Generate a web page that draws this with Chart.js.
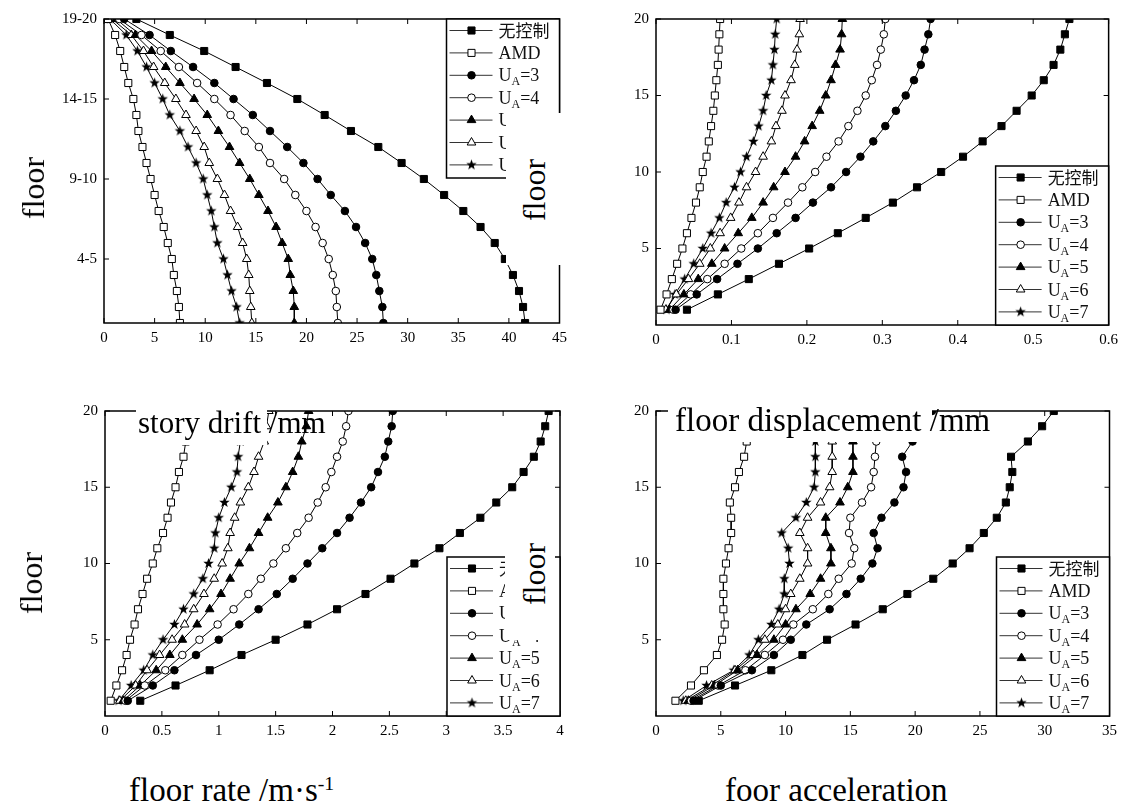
<!DOCTYPE html>
<html>
<head>
<meta charset="utf-8">
<script src="https://cdn.jsdelivr.net/npm/chart.js@4.4.1/dist/chart.umd.min.js"></script>
<style>
  body { margin: 0; background: #fff; width: 1121px; height: 809px; overflow: hidden; position: relative; font-family: "Liberation Serif", serif; }
  canvas { position: absolute; }
  .t { position: absolute; white-space: nowrap; line-height: 1; color: #000; z-index: 5; }
  .mask { position: absolute; background: #fff; z-index: 4; }
  .rot { transform: translate(-50%, -50%) rotate(-90deg); }
  sup { font-size: 60%; vertical-align: 0.55em; }
</style>
</head>
<body>
<canvas id="drift"></canvas>
<canvas id="disp"></canvas>
<canvas id="rate"></canvas>
<canvas id="acc"></canvas>

<!-- pasted labels, as in the original collage -->
<div class="mask" style="left:506px;top:113px;width:70px;height:152px"></div>
<div class="mask" style="left:505px;top:540px;width:50px;height:100px"></div>
<div class="mask" style="left:136px;top:395px;width:131px;height:50px"></div>
<div class="mask" style="left:668px;top:395px;width:264px;height:47px"></div>

<div class="t rot" style="left:33px;top:188px;font-size:32px">floor</div>
<div class="t rot" style="left:31px;top:583px;font-size:32px">floor</div>
<div class="t rot" style="left:534px;top:190px;font-size:32px">floor</div>
<div class="t rot" style="left:534px;top:574px;font-size:32px">floor</div>
<div class="t" style="left:138px;top:407px;font-size:31px">story drift /mm</div>
<div class="t" style="left:675px;top:404px;font-size:33px">floor displacement /mm</div>
<div class="t" style="left:129px;top:774px;font-size:33px">floor rate /m·s<sup>-1</sup></div>
<div class="t" style="left:725px;top:774px;font-size:33px">foor acceleration</div>

<script>
// floors, top to bottom
const floors = [20, 19, 18, 17, 16, 15, 14, 13, 12, 11, 10, 9, 8, 7, 6, 5, 4, 3, 2, 1];
const seriesNames = ['无控制', 'AMD', 'U_A=3', 'U_A=4', 'U_A=5', 'U_A=6', 'U_A=7'];

// tick labels
const floorTicks = [5, 10, 15, 20];
const driftFloorLabels = ['4-5', '9-10', '14-15', '19-20'];
const driftTicksX = [0, 5, 10, 15, 20, 25, 30, 35, 40, 45];
const dispTicksX = [0, 0.1, 0.2, 0.3, 0.4, 0.5, 0.6];
const rateTicksX = [0, 0.5, 1, 1.5, 2, 2.5, 3, 3.5, 4];
const accTicksX = [0, 5, 10, 15, 20, 25, 30, 35];

// top left
const noCtrl1 = [3.2, 6.5, 9.9, 13.0, 16.1, 19.1, 21.8, 24.4, 27.1, 29.4, 31.6, 33.6, 35.5, 37.2, 38.6, 39.6, 40.4, 41.0, 41.4, 41.6];
const amd1 = [0.4, 1.1, 1.6, 2.0, 2.4, 2.9, 3.2, 3.4, 3.8, 4.2, 4.6, 5.0, 5.4, 5.9, 6.3, 6.7, 6.9, 7.2, 7.4, 7.5];
const ua3_1 = [2.0, 4.5, 6.6, 8.8, 10.9, 12.8, 14.7, 16.4, 18.1, 19.7, 21.1, 22.4, 23.8, 24.9, 25.8, 26.5, 26.9, 27.2, 27.5, 27.6];
const ua4_1 = [1.5, 3.7, 5.6, 7.4, 9.2, 10.9, 12.5, 13.9, 15.3, 16.4, 17.8, 18.9, 20.0, 20.9, 21.6, 22.2, 22.6, 22.9, 23.0, 23.1];
const ua5_1 = [1.2, 3.1, 4.7, 6.1, 7.5, 8.9, 10.2, 11.3, 12.4, 13.4, 14.4, 15.3, 16.2, 17.0, 17.6, 18.2, 18.4, 18.7, 18.8, 18.8];
const ua6_1 = [0.8, 2.7, 3.9, 4.9, 6.0, 7.1, 8.1, 9.1, 9.9, 10.4, 11.2, 11.9, 12.5, 13.2, 13.7, 14.1, 14.3, 14.4, 14.5, 14.6];
const ua7_1 = [0.6, 2.2, 3.3, 4.2, 5.0, 5.8, 6.5, 7.5, 8.3, 9.1, 9.8, 10.2, 10.6, 10.9, 11.2, 11.8, 12.2, 12.6, 13.1, 13.4];

// top right
const noCtrl2 = [0.548, 0.542, 0.536, 0.527, 0.514, 0.498, 0.478, 0.458, 0.433, 0.407, 0.378, 0.346, 0.314, 0.278, 0.241, 0.203, 0.163, 0.123, 0.082, 0.041];
const amd2 = [0.085, 0.084, 0.083, 0.082, 0.080, 0.078, 0.076, 0.073, 0.070, 0.067, 0.062, 0.058, 0.053, 0.047, 0.041, 0.035, 0.028, 0.021, 0.014, 0.006];
const ua3_2 = [0.364, 0.361, 0.356, 0.351, 0.342, 0.331, 0.318, 0.304, 0.288, 0.271, 0.252, 0.232, 0.208, 0.185, 0.160, 0.135, 0.108, 0.081, 0.054, 0.026];
const ua4_2 = [0.304, 0.302, 0.298, 0.293, 0.286, 0.278, 0.267, 0.255, 0.242, 0.226, 0.211, 0.194, 0.175, 0.155, 0.135, 0.113, 0.091, 0.068, 0.046, 0.023];
const ua5_2 = [0.247, 0.246, 0.244, 0.238, 0.232, 0.225, 0.217, 0.207, 0.197, 0.185, 0.171, 0.156, 0.142, 0.127, 0.109, 0.091, 0.074, 0.056, 0.037, 0.018];
const ua6_2 = [0.191, 0.190, 0.187, 0.184, 0.179, 0.171, 0.167, 0.159, 0.153, 0.142, 0.132, 0.120, 0.110, 0.099, 0.085, 0.072, 0.058, 0.043, 0.027, 0.013];
const ua7_2 = [0.160, 0.158, 0.157, 0.155, 0.153, 0.146, 0.142, 0.136, 0.129, 0.120, 0.112, 0.104, 0.093, 0.084, 0.073, 0.062, 0.050, 0.038, 0.025, 0.014];

// bottom left
const noCtrl3 = [3.90, 3.87, 3.83, 3.77, 3.68, 3.58, 3.44, 3.30, 3.12, 2.94, 2.72, 2.51, 2.29, 2.04, 1.78, 1.50, 1.20, 0.92, 0.62, 0.31];
const amd3 = [0.74, 0.73, 0.71, 0.69, 0.65, 0.62, 0.58, 0.55, 0.51, 0.46, 0.42, 0.37, 0.33, 0.29, 0.26, 0.22, 0.19, 0.15, 0.10, 0.05];
const ua3_3 = [2.53, 2.52, 2.49, 2.46, 2.40, 2.34, 2.25, 2.15, 2.04, 1.91, 1.78, 1.65, 1.51, 1.35, 1.18, 1.00, 0.80, 0.61, 0.42, 0.20];
const ua4_3 = [2.14, 2.12, 2.09, 2.04, 1.99, 1.94, 1.87, 1.79, 1.69, 1.59, 1.48, 1.37, 1.26, 1.13, 0.99, 0.83, 0.68, 0.53, 0.35, 0.18];
const ua5_3 = [1.79, 1.77, 1.73, 1.70, 1.65, 1.59, 1.52, 1.43, 1.35, 1.27, 1.18, 1.10, 1.02, 0.92, 0.81, 0.68, 0.57, 0.45, 0.31, 0.16];
const ua6_3 = [1.44, 1.42, 1.40, 1.35, 1.31, 1.26, 1.19, 1.14, 1.10, 1.08, 1.03, 0.96, 0.87, 0.78, 0.70, 0.59, 0.48, 0.37, 0.27, 0.13];
const ua7_3 = [1.20, 1.19, 1.19, 1.17, 1.16, 1.11, 1.05, 1.00, 0.97, 0.96, 0.91, 0.86, 0.78, 0.69, 0.61, 0.51, 0.42, 0.34, 0.23, 0.12];

// bottom right
const noCtrl4 = [30.7, 29.8, 28.7, 27.4, 27.5, 27.3, 27.0, 26.3, 25.3, 24.2, 22.9, 21.4, 19.4, 17.5, 15.4, 13.2, 11.3, 8.9, 6.1, 3.3];
const amd4 = [7.4, 7.2, 7.0, 6.8, 6.4, 6.1, 5.7, 5.8, 5.8, 5.6, 5.4, 5.2, 5.2, 5.2, 5.3, 5.1, 4.7, 3.7, 2.7, 1.5];
const ua3_4 = [21.3, 20.6, 19.8, 19.0, 19.3, 19.1, 18.4, 17.4, 16.8, 17.1, 16.7, 15.8, 14.7, 13.4, 11.6, 10.4, 9.1, 7.4, 5.0, 2.9];
const ua4_4 = [17.2, 17.1, 17.0, 16.9, 16.8, 16.6, 15.9, 15.0, 14.9, 15.3, 15.1, 14.1, 13.3, 12.1, 10.6, 9.8, 8.4, 6.9, 4.8, 2.7];
const ua5_4 = [15.3, 15.2, 15.2, 15.2, 15.2, 14.8, 14.2, 13.1, 13.1, 13.5, 13.5, 12.7, 11.9, 10.8, 10.0, 9.1, 7.8, 6.3, 4.5, 2.5];
const ua6_4 = [13.7, 13.6, 13.6, 13.6, 13.6, 13.4, 12.7, 11.7, 11.1, 11.7, 11.7, 11.1, 10.4, 10.0, 9.4, 8.4, 7.5, 6.1, 4.3, 2.3];
const ua7_4 = [12.4, 12.3, 12.3, 12.3, 12.3, 12.2, 11.6, 10.8, 9.7, 10.2, 10.3, 9.9, 9.9, 9.5, 8.9, 7.9, 7.2, 6.0, 3.9, 2.1];

// filled star, Chart.js has no solid one
function makeStar(r) {
    const c = document.createElement('canvas');
    c.width = c.height = 2 * r + 2;
    const g = c.getContext('2d');
    g.beginPath();
    for (let i = 0; i < 10; i++) {
        const a = -Math.PI / 2 + i * Math.PI / 5;
        const rr = i % 2 ? r * 0.42 : r;
        g.lineTo(r + 1 + rr * Math.cos(a), r + 1 + rr * Math.sin(a));
    }
    g.closePath();
    g.fillStyle = '#000';
    g.fill();
    return c;
}
const starImg = makeStar(5.5);

const markers = [
    { style: 'rect', fill: '#000', r: 5 },
    { style: 'rect', fill: '#fff', r: 5 },
    { style: 'circle', fill: '#000', r: 3.8 },
    { style: 'circle', fill: '#fff', r: 3.8 },
    { style: 'triangle', fill: '#000', r: 5 },
    { style: 'triangle', fill: '#fff', r: 5 },
    { style: starImg, fill: '#000', r: 5 }
];

function drawMarker(ctx, m, x, y) {
    ctx.save();
    ctx.fillStyle = m.fill;
    ctx.strokeStyle = '#000';
    ctx.lineWidth = 1;
    if (m.style === starImg) {
        ctx.drawImage(starImg, x - starImg.width / 2, y - starImg.height / 2);
    } else {
        ctx.beginPath();
        if (m.style === 'rect') {
            const s = Math.SQRT1_2 * m.r;
            ctx.rect(x - s, y - s, 2 * s, 2 * s);
        } else if (m.style === 'circle') {
            ctx.arc(x, y, m.r, 0, Math.PI * 2);
        } else {
            for (let k = 0; k < 3; k++) {
                const a = k * 2 * Math.PI / 3;
                ctx.lineTo(x + Math.sin(a) * m.r, y - Math.cos(a) * m.r);
            }
            ctx.closePath();
        }
        ctx.fill();
        ctx.stroke();
    }
    ctx.restore();
}

// box around the plot with inward ticks on all four sides
const framePlugin = {
    id: 'frame',
    afterDatasetsDraw(chart) {
        const { ctx, chartArea: a, scales: { x, y } } = chart;
        ctx.save();
        ctx.strokeStyle = '#000';
        ctx.lineWidth = 1.5;
        ctx.strokeRect(a.left, a.top, a.right - a.left, a.bottom - a.top);
        ctx.lineWidth = 1;
        ctx.beginPath();
        x.ticks.forEach(t => {
            const px = x.getPixelForValue(t.value);
            ctx.moveTo(px, a.bottom); ctx.lineTo(px, a.bottom - 5);
            ctx.moveTo(px, a.top); ctx.lineTo(px, a.top + 5);
        });
        y.ticks.forEach(t => {
            const py = y.getPixelForValue(t.value);
            ctx.moveTo(a.left, py); ctx.lineTo(a.left + 5, py);
            ctx.moveTo(a.right, py); ctx.lineTo(a.right - 5, py);
        });
        ctx.stroke();
        ctx.restore();
    }
};

// legend box drawn inside the plot, line through marker
const legendPlugin = {
    id: 'boxLegend',
    afterDraw(chart, args, opts) {
        const { ctx, chartArea: a } = chart;
        const w = 113, h = 159, rowH = 22.4;
        const x0 = a.right - w;
        const y0 = opts.at === 'top' ? a.top : a.bottom - h;
        ctx.save();
        ctx.fillStyle = '#fff';
        ctx.fillRect(x0, y0, w, h);
        ctx.strokeStyle = '#000';
        ctx.lineWidth = 1.5;
        ctx.strokeRect(x0, y0, w, h);
        seriesNames.forEach((name, i) => {
            const yy = y0 + 11.5 + i * rowH;
            ctx.strokeStyle = '#333';
            ctx.lineWidth = 1;
            ctx.beginPath();
            ctx.moveTo(x0 + 3, yy);
            ctx.lineTo(x0 + 46, yy);
            ctx.stroke();
            drawMarker(ctx, markers[i], x0 + 25, yy);
            ctx.fillStyle = '#111';
            ctx.textBaseline = 'alphabetic';
            let tx = x0 + 52;
            const base = yy + 6;
            if (name.startsWith('U_A')) {
                ctx.font = '18px "Liberation Serif"';
                ctx.fillText('U', tx, base);
                tx += ctx.measureText('U').width;
                ctx.font = '12px "Liberation Serif"';
                ctx.fillText('A', tx, base + 4);
                tx += ctx.measureText('A').width;
                ctx.font = '18px "Liberation Serif"';
                ctx.fillText(name.slice(3), tx, base);
            } else {
                ctx.font = name === 'AMD' ? '18px "Liberation Serif"' : '17px "Noto Sans CJK SC"';
                ctx.fillText(name, tx, base);
            }
        });
        ctx.restore();
    }
};

function makeChart(id, rect, xTicks, yMin, yLabels, series, legendAt) {
    const cv = document.getElementById(id);
    const padL = 60, padT = 12, padR = 12, padB = 40;
    cv.width = rect.R - rect.L + padL + padR;
    cv.height = rect.B - rect.T + padT + padB;
    cv.style.left = (rect.L - padL) + 'px';
    cv.style.top = (rect.T - padT) + 'px';
    const tickFont = { family: 'Liberation Serif', size: 15 };
    return new Chart(cv, {
        type: 'scatter',
        data: {
            datasets: series.map((vals, i) => ({
                label: seriesNames[i],
                data: floors.map((f, k) => ({ x: vals[k], y: f })),
                showLine: true,
                borderColor: '#000',
                borderWidth: 1,
                pointStyle: markers[i].style,
                pointRadius: markers[i].r,
                pointHoverRadius: markers[i].r,
                pointBackgroundColor: markers[i].fill,
                pointBorderColor: '#000',
                pointBorderWidth: 1
            }))
        },
        options: {
            responsive: false,
            animation: false,
            devicePixelRatio: 1,
            events: [],
            layout: { padding: { left: 0, top: padT, right: padR, bottom: 0 } },
            plugins: {
                legend: { display: false },
                tooltip: { enabled: false },
                boxLegend: { at: legendAt }
            },
            scales: {
                x: {
                    type: 'linear',
                    min: xTicks[0],
                    max: xTicks[xTicks.length - 1],
                    afterBuildTicks: s => { s.ticks = xTicks.map(v => ({ value: v })); },
                    afterFit: s => { s.height = padB; },
                    grid: { display: false, drawTicks: false },
                    border: { display: false },
                    ticks: { padding: 6, color: '#000', font: tickFont, maxRotation: 0, autoSkip: false,
                             callback: v => String(v) }
                },
                y: {
                    type: 'linear',
                    min: yMin,
                    max: 20,
                    afterBuildTicks: s => { s.ticks = floorTicks.map(v => ({ value: v })); },
                    afterFit: s => { s.width = padL; },
                    grid: { display: false, drawTicks: false },
                    border: { display: false },
                    ticks: { padding: 7, color: '#000', font: tickFont, autoSkip: false,
                             callback: v => yLabels ? yLabels[floorTicks.indexOf(v)] : String(v) }
                }
            }
        },
        plugins: [framePlugin, legendPlugin]
    });
}

makeChart('drift', { L: 104, T: 15, R: 561, B: 323 }, driftTicksX, 1, driftFloorLabels,
    [noCtrl1, amd1, ua3_1, ua4_1, ua5_1, ua6_1, ua7_1], 'top');
makeChart('disp', { L: 656, T: 15, R: 1112, B: 325 }, dispTicksX, 0, null,
    [noCtrl2, amd2, ua3_2, ua4_2, ua5_2, ua6_2, ua7_2], 'bottom');
makeChart('rate', { L: 105, T: 407, R: 560, B: 716 }, rateTicksX, 0, null,
    [noCtrl3, amd3, ua3_3, ua4_3, ua5_3, ua6_3, ua7_3], 'bottom');
makeChart('acc', { L: 656, T: 407, R: 1111, B: 716 }, accTicksX, 0, null,
    [noCtrl4, amd4, ua3_4, ua4_4, ua5_4, ua6_4, ua7_4], 'bottom');
</script>
</body>
</html>
